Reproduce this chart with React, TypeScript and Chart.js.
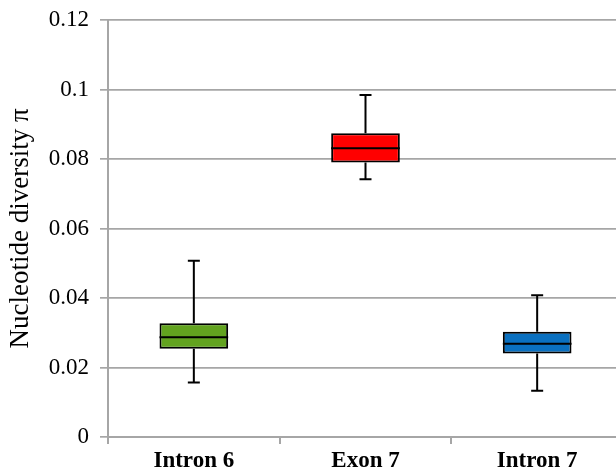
import React, { useEffect, useRef } from "react";
import { Chart, registerables } from "chart.js";

Chart.register(...registerables);

const categories = ["Intron 6", "Exon 7", "Intron 7"];
const whiskerLow = [0.0157, 0.0742, 0.0133];
const q1 = [0.0254, 0.079, 0.024];
const median = [0.0287, 0.0831, 0.0268];
const q3 = [0.0327, 0.0874, 0.0303];
const whiskerHigh = [0.0507, 0.0984, 0.0408];
const boxColors = ["#62a31f", "#ff0000", "#0a70c0"];
const yTicks = [0, 0.02, 0.04, 0.06, 0.08, 0.1, 0.12];

const boxPlugin = {
  id: "boxWhiskers",
  afterDatasetsDraw(chart: any) {
    const { ctx, scales } = chart;
    const x = scales.x;
    const y = scales.y;
    const meta = chart.getDatasetMeta(0);
    ctx.save();
    ctx.strokeStyle = "#000";
    ctx.lineWidth = 2;
    categories.forEach((_, i) => {
      const bar = meta.data[i];
      const cx = x.getPixelForValue(i);
      const half = bar.width / 2;
      const cap = 6;
      const yLo = y.getPixelForValue(whiskerLow[i]);
      const yQ1 = y.getPixelForValue(q1[i]);
      const yMed = y.getPixelForValue(median[i]);
      const yQ3 = y.getPixelForValue(q3[i]);
      const yHi = y.getPixelForValue(whiskerHigh[i]);
      ctx.beginPath();
      ctx.moveTo(cx, yQ3);
      ctx.lineTo(cx, yHi);
      ctx.moveTo(cx - cap, yHi);
      ctx.lineTo(cx + cap, yHi);
      ctx.moveTo(cx, yQ1);
      ctx.lineTo(cx, yLo);
      ctx.moveTo(cx - cap, yLo);
      ctx.lineTo(cx + cap, yLo);
      ctx.moveTo(cx - half, yMed);
      ctx.lineTo(cx + half, yMed);
      ctx.stroke();
    });
    ctx.restore();
  },
};

export default function App() {
  const ref = useRef<HTMLCanvasElement>(null);
  useEffect(() => {
    if (!ref.current) return;
    const chart = new Chart(ref.current, {
      type: "bar",
      data: {
        labels: categories,
        datasets: [
          {
            data: categories.map((_, i) => [q1[i], q3[i]]) as any,
            backgroundColor: boxColors,
            borderColor: "#000",
            borderWidth: 2,
            borderSkipped: false,
            barPercentage: 0.4,
            categoryPercentage: 1,
          },
        ],
      },
      options: {
        animation: false,
        responsive: false,
        layout: { padding: { top: 20, right: 0, left: 0, bottom: 0 } },
        plugins: { legend: { display: false }, tooltip: { enabled: false } },
        scales: {
          x: {
            grid: {
              display: true,
              drawOnChartArea: false,
              drawTicks: true,
              tickLength: 7,
              color: "#a6a6a6",
              lineWidth: 2,
              offset: true,
            },
            border: { display: true, color: "#a6a6a6", width: 2 },
            ticks: {
              color: "#000",
              padding: 3,
              font: { family: "'Liberation Serif', serif", size: 23, weight: "bold" },
            },
            afterFit: (s: any) => {
              s.height = 36;
              s.paddingLeft = 0;
              s.paddingRight = 0;
            },
          },
          y: {
            min: 0,
            max: 0.12,
            afterBuildTicks: (s: any) => {
              s.ticks = yTicks.map((v) => ({ value: v }));
            },
            grid: {
              color: "#a6a6a6",
              lineWidth: 1.7,
              drawTicks: true,
              tickLength: 8,
            },
            border: { display: true, color: "#a6a6a6", width: 2 },
            ticks: {
              color: "#000",
              padding: 11,
              font: { family: "'Liberation Serif', serif", size: 23 },
              callback: (v: any) => String(Math.round(Number(v) * 100) / 100),
            },
            title: {
              display: true,
              text: "Nucleotide diversity π",
              color: "#000",
              padding: { top: 5, bottom: 0 },
              font: { family: "'Liberation Serif', serif", size: 27 },
            },
            afterFit: (s: any) => {
              s.width = 108;
              s.paddingTop = 0;
              s.paddingBottom = 0;
            },
          },
        },
      },
      plugins: [boxPlugin],
    });
    return () => chart.destroy();
  }, []);
  return (
    <div style={{ position: "fixed", left: 0, top: 0, width: 616, height: 473, overflow: "hidden", background: "#fff" }}>
      <canvas ref={ref} width={623} height={473} style={{ display: "block" }} />
    </div>
  );
}
